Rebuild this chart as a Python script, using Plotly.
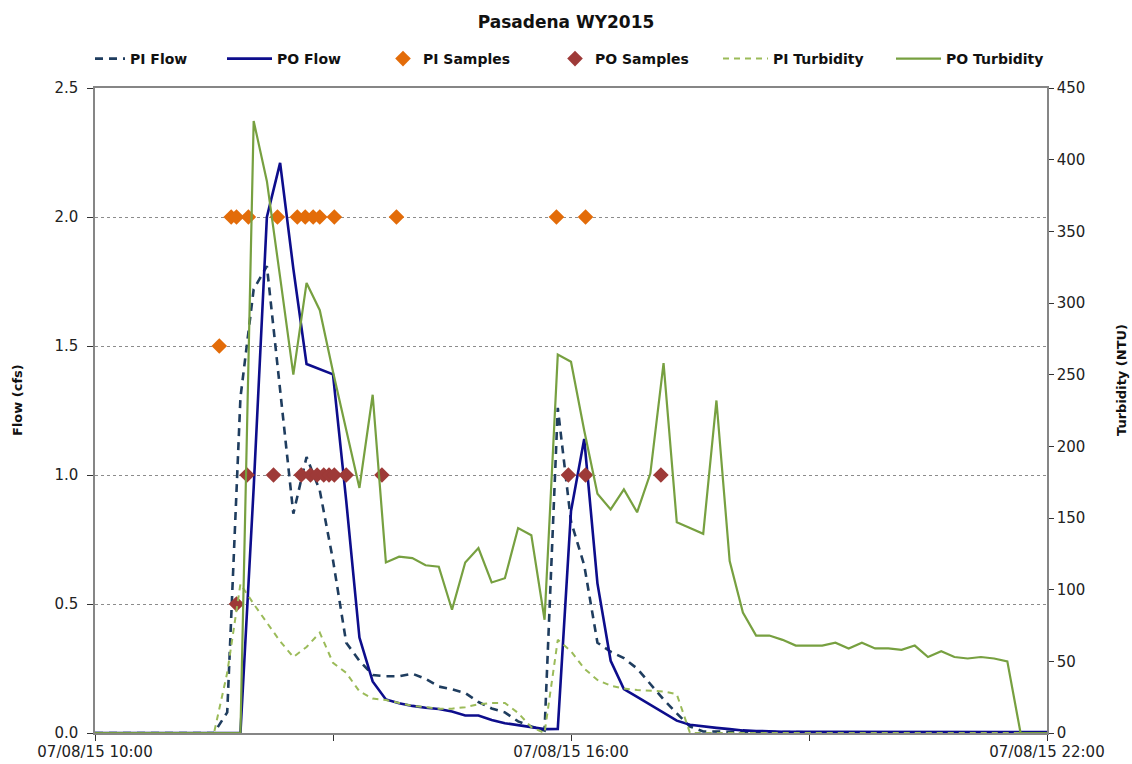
import pandas as pd
import plotly.graph_objects as go

# 10-minute readings, 07/08/15 10:00 through 22:00
times = pd.date_range("2015-07-08 10:00", "2015-07-08 22:00", freq="10min")

pi_flow = [0, 0, 0, 0, 0, 0, 0, 0, 0, 0.0,
           0.08, 1.30, 1.72, 1.81, 1.33, 0.85, 1.07, 0.94, 0.67, 0.35,
           0.28, 0.225, 0.22, 0.22, 0.23, 0.21, 0.18, 0.17, 0.155, 0.12,
           0.095, 0.08, 0.045, 0.025, 0.01, 1.26, 0.82, 0.65, 0.35, 0.315,
           0.29, 0.25, 0.19, 0.13, 0.076, 0.025, 0.006, 0.005, 0.005, 0.004,
           0.004, 0.004, 0.003, 0.003, 0.003, 0.003, 0.003, 0.003, 0.003, 0.003,
           0.003, 0.003, 0.003, 0.003, 0.003, 0.003, 0.003, 0.003, 0.003, 0.003,
           0.003, 0.003, 0.003]

po_flow = [0, 0, 0, 0, 0, 0, 0, 0, 0, 0,
           0, 0, 0.95, 2.00, 2.21, 1.80, 1.43, 1.41, 1.39, 0.90,
           0.37, 0.20, 0.13, 0.115, 0.105, 0.098, 0.093, 0.083, 0.068, 0.068,
           0.05, 0.038, 0.03, 0.024, 0.015, 0.016, 0.86, 1.14, 0.58, 0.28,
           0.17, 0.14, 0.11, 0.077, 0.048, 0.032, 0.025, 0.02, 0.015, 0.01,
           0.008, 0.006, 0.005, 0.005, 0.005, 0.005, 0.004, 0.004, 0.005, 0.004,
           0.004, 0.004, 0.004, 0.004, 0.004, 0.004, 0.004, 0.004, 0.004, 0.004,
           0.004, 0.004, 0.004]

pi_turbidity = [0, 0, 0, 0, 0, 0, 0, 0, 0, 0,
                42, 104, 90, 77, 64, 53, 60, 70, 49, 42,
                29, 24, 23, 21, 19, 18, 17, 17, 18, 20,
                21, 21, 14, 4, 0, 65, 57, 45, 37, 33,
                31, 30, 29.5, 29, 27, 0, 0, 0, 0, 0,
                0, 0, 0, 0, 0, 0, 0, 0, 0, 0,
                0, 0, 0, 0, 0, 0, 0, 0, 0, 0,
                0, 0, 0]

po_turbidity = [0, 0, 0, 0, 0, 0, 0, 0, 0, 0,
                0, 0, 427, 385, 318, 250, 314, 295, 252, 212,
                171, 236, 119, 123, 122, 117, 116, 86, 119, 129,
                105, 108, 143, 138, 79, 264, 259, 211, 167, 156,
                170, 154, 181, 258, 147, 143, 139, 232, 120, 84,
                68, 68, 65, 61, 61, 61, 63, 59, 63, 59,
                59, 58, 61, 53, 57, 53, 52, 53, 52, 50,
                0, 0, 0]

pi_sample_times = ["2015-07-08 11:34", "2015-07-08 11:43", "2015-07-08 11:47",
                   "2015-07-08 11:56", "2015-07-08 12:18", "2015-07-08 12:33",
                   "2015-07-08 12:39", "2015-07-08 12:45", "2015-07-08 12:50",
                   "2015-07-08 13:01", "2015-07-08 13:48", "2015-07-08 15:49",
                   "2015-07-08 16:11"]
pi_sample_flow = [1.5, 2.0, 2.0, 2.0, 2.0, 2.0, 2.0, 2.0, 2.0, 2.0, 2.0, 2.0, 2.0]

po_sample_times = ["2015-07-08 11:47", "2015-07-08 11:55", "2015-07-08 12:15",
                   "2015-07-08 12:36", "2015-07-08 12:43", "2015-07-08 12:48",
                   "2015-07-08 12:53", "2015-07-08 12:57", "2015-07-08 13:01",
                   "2015-07-08 13:10", "2015-07-08 13:37", "2015-07-08 15:58",
                   "2015-07-08 16:11", "2015-07-08 17:08"]
po_sample_flow = [0.5, 1.0, 1.0, 1.0, 1.0, 1.0, 1.0, 1.0, 1.0, 1.0, 1.0, 1.0, 1.0, 1.0]

flow_ticks = [0.0, 0.5, 1.0, 1.5, 2.0, 2.5]
turbidity_ticks = list(range(0, 451, 50))

C_PI_FLOW = "#1F3D5F"
C_PO_FLOW = "#0D0D8C"
C_PI_SAMP = "#E36C09"
C_PO_SAMP = "#9E3A38"
C_PI_TURB = "#9BBB59"
C_PO_TURB = "#77A040"
AXIS_GRAY = "#868686"

TICK_FONT = dict(family="DejaVu Sans", size=15, color="#222222")
LEG_FONT = dict(family="DejaVu Sans", size=14, color="#111111", weight="bold")

fig = go.Figure()

fig.add_trace(go.Scatter(x=times, y=pi_flow, name="PI Flow", mode="lines",
                         line=dict(color=C_PI_FLOW, width=2.6, dash="8px,6px"),
                         legend="legend"))
fig.add_trace(go.Scatter(x=times, y=po_flow, name="PO Flow", mode="lines",
                         line=dict(color=C_PO_FLOW, width=2.6),
                         legend="legend2"))
fig.add_trace(go.Scatter(x=pi_sample_times, y=pi_sample_flow, name="PI Samples",
                         mode="markers",
                         marker=dict(symbol="diamond", size=12, color=C_PI_SAMP),
                         legend="legend3"))
fig.add_trace(go.Scatter(x=po_sample_times, y=po_sample_flow, name="PO Samples",
                         mode="markers",
                         marker=dict(symbol="diamond", size=12, color=C_PO_SAMP),
                         legend="legend4"))
fig.add_trace(go.Scatter(x=times, y=pi_turbidity, name="PI Turbidity", mode="lines",
                         line=dict(color=C_PI_TURB, width=2, dash="6px,5px"),
                         yaxis="y2", legend="legend5"))
fig.add_trace(go.Scatter(x=times, y=po_turbidity, name="PO Turbidity", mode="lines",
                         line=dict(color=C_PO_TURB, width=2.2),
                         yaxis="y2", legend="legend6"))

# plot area in pixels: left 95, right 1047, top 88, bottom 733
L, R, T, B = 95, 1047, 88, 733
W, H = R - L, B - T


def legend_at(px, item_w):
    return dict(orientation="h", x=(px - L) / W, xanchor="left",
                y=(B - 59) / H, yanchor="middle", bgcolor="rgba(0,0,0,0)",
                font=LEG_FONT, borderwidth=0, itemwidth=item_w)


legend_starts = [90, 222, 383, 555, 718, 891]
legend_item_widths = [30, 45, 30, 30, 45, 45]
legend_layout = {}
for k, (px, iw) in enumerate(zip(legend_starts, legend_item_widths)):
    key = "legend" if k == 0 else f"legend{k + 1}"
    legend_layout[key] = legend_at(px, iw)

fig.update_layout(
    width=1132, height=764,
    margin=dict(l=L, r=1132 - R, t=T, b=764 - B, autoexpand=False),
    paper_bgcolor="white", plot_bgcolor="white",
    showlegend=True,
    title=dict(text="<b>Pasadena WY2015</b>", x=0.5, xanchor="center",
               y=1 - 22 / 764, yanchor="middle",
               font=dict(family="DejaVu Sans", size=17, color="#111111")),
    xaxis=dict(
        type="date", automargin=False,
        range=["2015-07-08 10:00", "2015-07-08 22:00"],
        tick0="2015-07-08 10:00", dtick=6 * 3600 * 1000,
        tickformat="%m/%d/%y %H:%M",
        ticks="outside", ticklen=6, tickcolor="#333333",
        ticklabelstandoff=-2,
        minor=dict(dtick=3 * 3600 * 1000, tick0="2015-07-08 10:00",
                   ticks="outside", ticklen=6, tickcolor="#333333"),
        showgrid=False, zeroline=False,
        showline=True, linecolor=AXIS_GRAY, linewidth=1.5, mirror=True,
        tickfont=TICK_FONT,
    ),
    yaxis=dict(
        range=[0, 2.5], tickvals=flow_ticks, tickformat=".1f", automargin=False,
        ticks="outside", ticklen=6, tickcolor="#333333",
        ticklabelstandoff=6,
        showgrid=True, gridcolor="#8C8C8C", griddash="3px,3px", gridwidth=1,
        zeroline=False,
        showline=True, linecolor=AXIS_GRAY, linewidth=1.5,
        tickfont=TICK_FONT,
    ),
    yaxis2=dict(
        range=[0, 450], tickvals=turbidity_ticks, automargin=False,
        overlaying="y", side="right",
        ticks="outside", ticklen=5, tickcolor="#333333",
        showgrid=False, zeroline=False,
        showline=True, linecolor=AXIS_GRAY, linewidth=1.5,
        tickfont=TICK_FONT,
    ),
    annotations=[
        dict(text="<b>Flow (cfs)</b>", textangle=-90, xref="paper", yref="paper",
             x=(17 - L) / W, y=(B - 400) / H, xanchor="center", yanchor="middle",
             showarrow=False,
             font=dict(family="DejaVu Sans", size=13, color="#111111")),
        dict(text="<b>Turbidity (NTU)</b>", textangle=-90, xref="paper", yref="paper",
             x=(1121 - L) / W, y=(B - 380) / H, xanchor="center", yanchor="middle",
             showarrow=False,
             font=dict(family="DejaVu Sans", size=13, color="#111111")),
    ],
    **legend_layout,
)

fig.write_html("out.html")
